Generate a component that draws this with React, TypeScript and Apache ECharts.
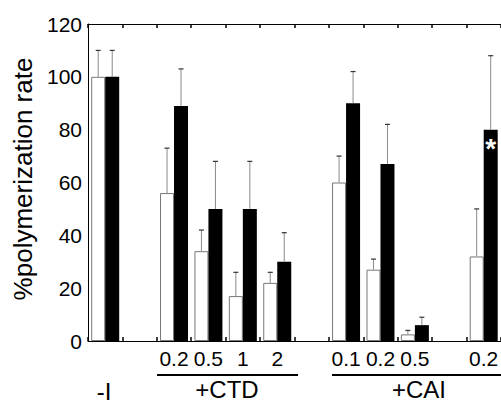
import React, { useEffect, useRef } from "react";
import * as echarts from "echarts";

// Slots along the x axis (empty strings = gaps / unlabeled)
const slotKeys = ["I", "g1", "CTD0.2", "CTD0.5", "CTD1", "CTD2", "g2", "CAI0.1", "CAI0.2", "CAI0.5", "g3", "X0.2"];
const slotLabels = ["", "", "0.2", "0.5", "1", "2", "", "0.1", "0.2", "0.5", "", "0.2"];

const whiteValues: (number | null)[] = [100, null, 56, 34, 17, 22, null, 60, 27, 2.5, null, 32];
const whiteErrTop: (number | null)[] = [110, null, 73, 42, 26, 26, null, 70, 31, 4, null, 50];
const blackValues: (number | null)[] = [100, null, 89, 50, 50, 30, null, 90, 67, 6, null, 80];
const blackErrTop: (number | null)[] = [110, null, 103, 68, 68, 41, null, 102, 82, 9, null, 108];
const starSlot = 11;

const yTicks = { min: 0, max: 120, interval: 20 };

const FONT = "'Liberation Sans', Arial, Helvetica, sans-serif";

function errData(vals: (number | null)[], tops: (number | null)[]) {
  const out: number[][] = [];
  vals.forEach((v, i) => {
    const t = tops[i];
    if (v != null && t != null) out.push([i, v, t]);
  });
  return out;
}

function makeErr(side: number) {
  return (params: any, api: any) => {
    const base = api.coord([api.value(0), api.value(1)]);
    const top = api.coord([api.value(0), api.value(2)]);
    const half = 7 * side;
    const x = base[0] + half;
    return {
      type: "group",
      children: [
        {
          type: "line",
          shape: { x1: x, y1: base[1], x2: x, y2: top[1] },
          style: { stroke: "#8a8a8a", lineWidth: 1 },
        },
        {
          type: "line",
          shape: { x1: x - 2.5, y1: top[1], x2: x + 2.5, y2: top[1] },
          style: { stroke: "#333", lineWidth: 1.2 },
        },
      ],
    };
  };
}

export default function App() {
  const ref = useRef<HTMLDivElement>(null);
  useEffect(() => {
    if (!ref.current) return;
    const chart = echarts.init(ref.current, undefined, { renderer: "svg" });
    const blackData = blackValues.map((v, i) =>
      i === starSlot && v != null
        ? {
            value: v,
            label: {
              show: true,
              position: "insideTop",
              distance: 5,
              formatter: "*",
              color: "#fff",
              fontSize: 28,
              fontWeight: "bold",
              fontFamily: FONT,
            },
          }
        : v
    );
    chart.setOption({
      animation: false,
      textStyle: { fontFamily: FONT },
      grid: { left: 88, top: 24, width: 420, height: 317, containLabel: false },
      xAxis: [
        {
          type: "category",
          data: slotKeys,
          position: "bottom",
          axisLine: { lineStyle: { color: "#000", width: 1 } },
          axisTick: { show: true, inside: true, length: 4, interval: 0, lineStyle: { color: "#000", width: 1.5 } },
          axisLabel: {
            interval: 0,
            margin: 7,
            fontSize: 21,
            color: "#000",
            fontFamily: FONT,
            formatter: (_v: string, i: number) => slotLabels[i],
          },
        },
        {
          type: "category",
          data: slotKeys,
          position: "top",
          axisLine: { lineStyle: { color: "#000", width: 1 } },
          axisTick: { show: true, inside: true, length: 4, interval: 0, lineStyle: { color: "#000", width: 1.5 } },
          axisLabel: { show: false },
        },
      ],
      yAxis: {
        type: "value",
        min: yTicks.min,
        max: yTicks.max,
        interval: yTicks.interval,
        axisLine: { show: true, lineStyle: { color: "#000", width: 1 } },
        axisTick: { show: false },
        splitLine: { show: false },
        axisLabel: { fontSize: 21, color: "#000", margin: 6, fontFamily: FONT },
      },
      series: [
        {
          type: "bar",
          data: whiteValues,
          barWidth: 14,
          barGap: "0%",
          itemStyle: { color: "#fff", borderColor: "#777", borderWidth: 1 },
        },
        {
          type: "bar",
          data: blackData,
          barWidth: 14,
          barGap: "0%",
          itemStyle: { color: "#000" },
        },
        {
          type: "custom",
          renderItem: makeErr(-1),
          data: errData(whiteValues, whiteErrTop),
          encode: { x: 0, y: [1, 2] },
          z: 3,
        },
        {
          type: "custom",
          renderItem: makeErr(1),
          data: errData(blackValues, blackErrTop),
          encode: { x: 0, y: [1, 2] },
          z: 3,
        },
      ],
      graphic: [
        {
          type: "text",
          x: 23,
          y: 179,
          rotation: Math.PI / 2,
          style: {
            text: "%polymerization rate",
            font: `26px ${FONT}`,
            fill: "#000",
            align: "center",
            verticalAlign: "middle",
          },
        },
        {
          type: "text",
          x: 104,
          y: 391,
          style: { text: "-I", font: `24px ${FONT}`, fill: "#000", align: "center", verticalAlign: "middle" },
        },
        {
          type: "line",
          shape: { x1: 157, y1: 375, x2: 298, y2: 375 },
          style: { stroke: "#000", lineWidth: 2 },
        },
        {
          type: "text",
          x: 227,
          y: 389,
          style: { text: "+CTD", font: `24px ${FONT}`, fill: "#000", align: "center", verticalAlign: "middle" },
        },
        {
          type: "line",
          shape: { x1: 332, y1: 375, x2: 501, y2: 375 },
          style: { stroke: "#000", lineWidth: 2 },
        },
        {
          type: "text",
          x: 419,
          y: 389,
          style: { text: "+CAI", font: `24px ${FONT}`, fill: "#000", align: "center", verticalAlign: "middle" },
        },
      ],
    });
    return () => chart.dispose();
  }, []);
  return (
    <div
      ref={ref}
      style={{ position: "fixed", left: 0, top: 0, width: 501, height: 403, overflow: "hidden", background: "#fff" }}
    />
  );
}
